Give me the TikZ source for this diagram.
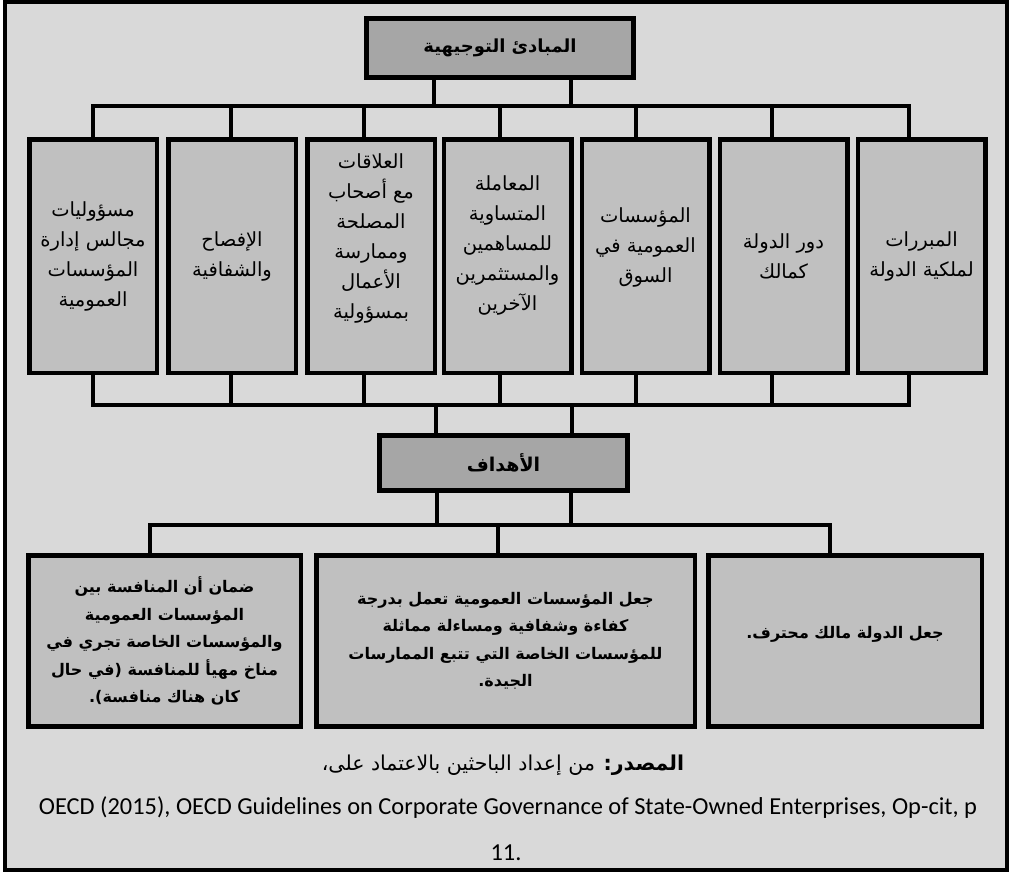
\documentclass[tikz,border=0pt]{standalone}
\usepackage{fontspec}
\setmainfont{Carlito}
\newfontfamily\arabicfont[Script=Arabic]{DejaVu Sans}
\TeXXeTstate=1
\newcommand{\ar}[1]{{\arabicfont\beginR #1\endR}}
\definecolor{bggray}{HTML}{D9D9D9}
\definecolor{boxgray}{HTML}{C0C0C0}
\definecolor{headgray}{HTML}{A6A6A6}

\begin{document}
\begin{tikzpicture}[x=1pt,y=-1pt,line width=4.8pt,
      head/.style={draw=black,line width=5pt,fill=headgray,inner sep=0pt,
        font=\bfseries\fontsize{19}{22}\selectfont},
      pillar/.style={draw=black,line width=4.5pt,fill=boxgray,inner sep=0pt,
        minimum width=127.5pt,minimum height=233.5pt,align=center,
        font=\fontsize{19.5}{30}\selectfont},
      goal/.style={draw=black,line width=4.5pt,fill=boxgray,inner sep=0pt,
        minimum height=171pt,align=center,font=\bfseries\fontsize{16}{27.5}\selectfont}]
      \useasboundingbox (0,0) rectangle (1012,873);
      \draw[fill=bggray,line width=4.5pt] (5,1.5) rectangle (1007,870);

      \node[head,minimum width=267pt,minimum height=59pt,font=\bfseries\fontsize{18}{22}\selectfont] (top) at (500,48) {\ar{المبادئ التوجيهية}};

      \node[pillar] (p1) at (93,256) {\ar{مسؤوليات}\\\ar{مجالس إدارة}\\\ar{المؤسسات}\\\ar{العمومية}};
      \node[pillar] (p2) at (232,256) {\ar{الإفصاح}\\\ar{والشفافية}};
      \node[pillar] (p3) at (371,256) {\ar{العلاقات}\\\ar{مع أصحاب}\\\ar{المصلحة}\\\ar{وممارسة}\\\ar{الأعمال}\\\ar{بمسؤولية}\\[10pt]};
      \node[pillar] (p4) at (507.5,256) {\ar{المعاملة}\\\ar{المتساوية}\\\ar{للمساهمين}\\\ar{والمستثمرين}\\\ar{الآخرين}\\[-4pt]};
      \node[pillar] (p5) at (645.5,256) {\ar{المؤسسات}\\\ar{العمومية في}\\\ar{السوق}\\[-8pt]};
      \node[pillar] (p6) at (783.5,256) {\ar{دور الدولة}\\\ar{كمالك}};
      \node[pillar] (p7) at (921.5,256) {\ar{المبررات}\\\ar{لملكية الدولة}};

      \node[head,minimum width=248pt,minimum height=55pt] (aims) at (503.5,463) {\ar{الأهداف}};

      \node[goal,minimum width=272.5pt] (g1) at (164.5,641) {\ar{ضمان أن المنافسة بين}\\\ar{المؤسسات العمومية}\\\ar{والمؤسسات الخاصة تجري في}\\\ar{مناخ مهيأ للمنافسة (في حال}\\\ar{كان هناك منافسة).}};
      \node[goal,minimum width=378.5pt] (g2) at (505.5,641) {\ar{جعل المؤسسات العمومية تعمل بدرجة}\\\ar{كفاءة وشفافية ومساءلة مماثلة}\\\ar{للمؤسسات الخاصة التي تتبع الممارسات}\\\ar{الجيدة.}};
      \node[goal,minimum width=273.5pt] (g3) at (845,641) {\ar{جعل الدولة مالك محترف.}\\[-10pt]};

      \node[font=\fontsize{20.5}{24}\selectfont] (src1) at (503,765) {\ar{\textbf{المصدر:} من إعداد الباحثين بالاعتماد على،}};
      \node[font=\fontsize{24.4}{28}\selectfont] (src2) at (508,808) {OECD (2015), OECD Guidelines on Corporate Governance of State-Owned Enterprises, Op-cit, p};
      \node[font=\fontsize{24.4}{28}\selectfont] (src3) at (506,853) {\beginL 11\kern0pt.\endL};

      % upper tree
      \coordinate (t1) at ([xshift=-66pt]top.south);
      \coordinate (t2) at ([xshift=71pt]top.south);
      \coordinate (bus1) at (0,106);
      \draw (t1) -- (t1 |- bus1);
      \draw (t2) -- (t2 |- bus1);
      \foreach \i/\dx in {1/0,2/-1,3/-7,4/-7.5,5/-9.5,6/-11.5,7/-12.5} {
        \coordinate (u\i) at ([xshift=\dx pt]p\i.north);
        \coordinate (d\i) at ([xshift=\dx pt]p\i.south);
      }
      \draw (u1) -- (u1 |- bus1) -- (u7 |- bus1) -- (u7);
      \foreach \i in {2,...,6} \draw (u\i) -- (u\i |- bus1);

      \coordinate (bus2) at (0,405);
      \draw (d1) -- (d1 |- bus2) -- (d7 |- bus2) -- (d7);
      \foreach \i in {2,...,6} \draw (d\i) -- (d\i |- bus2);
      \coordinate (a1) at ([xshift=-67.5pt]aims.north);
      \coordinate (a2) at ([xshift=68.5pt]aims.north);
      \draw (a1) -- (a1 |- bus2);
      \draw (a2) -- (a2 |- bus2);

      % lower tree
      \coordinate (bus3) at (0,525);
      \coordinate (b1) at ([xshift=-66.5pt]aims.south);
      \coordinate (b2) at ([xshift=67.5pt]aims.south);
      \draw (b1) -- (b1 |- bus3);
      \draw (b2) -- (b2 |- bus3);
      \foreach \i/\dx in {1/-14.5,2/-7.5,3/-15}
        \coordinate (v\i) at ([xshift=\dx pt]g\i.north);
      \draw (v1) -- (v1 |- bus3) -- (v3 |- bus3) -- (v3);
      \draw (v2) -- (v2 |- bus3);
    \end{tikzpicture}
\end{document}
